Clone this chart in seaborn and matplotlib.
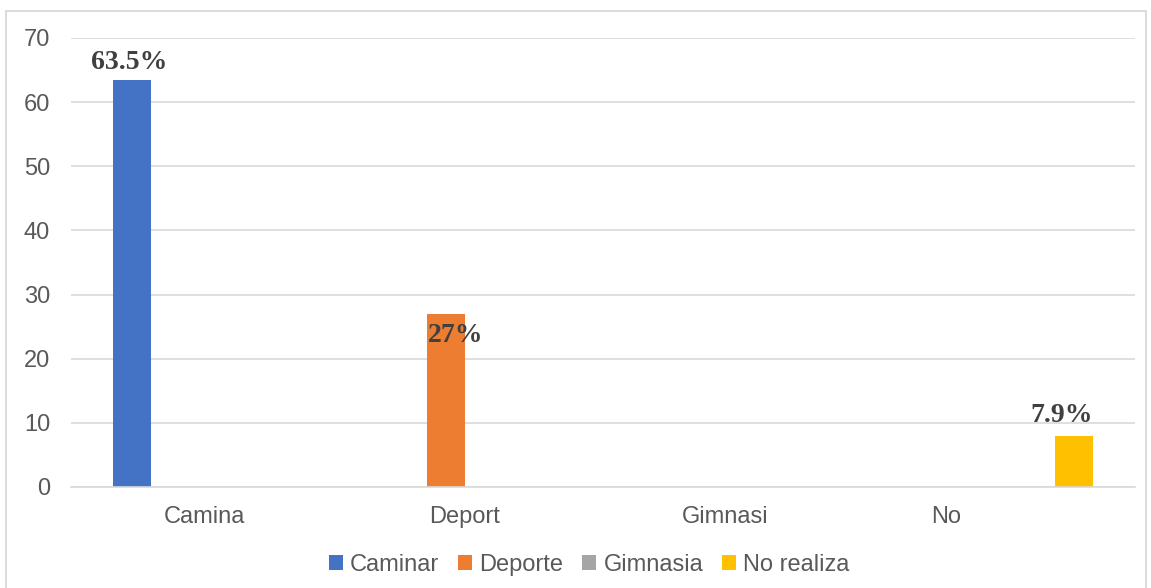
import matplotlib
matplotlib.use('Agg')
import matplotlib.pyplot as plt
from matplotlib.patches import Rectangle
import seaborn as sns
import pandas as pd

# datos del grafico
categorias = ['Camina', 'Deport', 'Gimnasi', 'No']
series = ['Caminar', 'Deporte', 'Gimnasia', 'No realiza']
valores = {
    'Caminar':    [63.5, 0, 0, 0],
    'Deporte':    [0, 27, 0, 0],
    'Gimnasia':   [0, 0, 0, 0],
    'No realiza': [0, 0, 0, 7.9],
}
etiquetas = {'Caminar': '63.5%', 'Deporte': '27%', 'No realiza': '7.9%'}
colores = ['#4472C4', '#ED7D31', '#A5A5A5', '#FFC000']

filas = []
for s in series:
    for c, v in zip(categorias, valores[s]):
        filas.append({'categoria': c, 'serie': s, 'valor': v})
df = pd.DataFrame(filas)

sns.set_style('white')
plt.rcParams['font.family'] = ['Liberation Sans', 'DejaVu Sans']

fig = plt.figure(figsize=(11.51, 5.88), dpi=100)
ax = fig.add_axes([0.0617, 0.1718, 0.9245, 0.7636])

sns.barplot(data=df, x='categoria', y='valor', hue='serie', order=categorias,
            hue_order=series, palette=colores, width=0.72, gap=0.2,
            saturation=1, linewidth=0, ax=ax, legend=True)

ax.set_ylim(0, 70)
ax.set_yticks(range(0, 71, 10))
ax.set_xlim(-0.5, 3.5)
# las etiquetas del original no quedan centradas en cada grupo
ax.set_xticks([0, 0.98, 1.96, 2.79], categorias)
ax.grid(axis='y', color='#D9D9D9', linewidth=1.2)
ax.set_axisbelow(True)
for side in ['top', 'right', 'left']:
    ax.spines[side].set_visible(False)
ax.spines['bottom'].set_color('#D9D9D9')
ax.spines['bottom'].set_linewidth(1.2)
ax.tick_params(axis='both', length=0, labelsize=17, colors='#595959')
ax.tick_params(axis='y', pad=15)
ax.tick_params(axis='x', pad=14)
ax.set_xlabel('')
ax.set_ylabel('')

# etiquetas de datos (desplazamiento en puntos)
desplaz = {'Caminar': (-2, 8), 'Deporte': (7, -20), 'No realiza': (-9, 10)}
for cont, s in zip(ax.containers, series):
    if s not in etiquetas:
        continue
    for bar in cont:
        if bar.get_height() > 0:
            dx, dy = desplaz[s]
            ax.annotate(etiquetas[s], (bar.get_x() + bar.get_width() / 2, bar.get_height()),
                        xytext=(dx, dy), textcoords='offset points', ha='center', va='baseline',
                        fontsize=20, fontweight='bold', color='#404040',
                        family=['Liberation Serif', 'DejaVu Serif'])

ax.get_legend().remove()
h, l = ax.get_legend_handles_labels()
fig.legend(h, l, loc='center', bbox_to_anchor=(0.512, 0.039), ncol=4, frameon=False,
           fontsize=17, handlelength=0.6, handleheight=0.6, handletextpad=0.3,
           columnspacing=0.8, labelcolor='#595959')

fig.patches.append(Rectangle((0.005, -0.02), 0.991, 1.001, transform=fig.transFigure,
                             fill=False, edgecolor='#D9D9D9', linewidth=1.3))

fig.savefig('out.png', dpi=100)
